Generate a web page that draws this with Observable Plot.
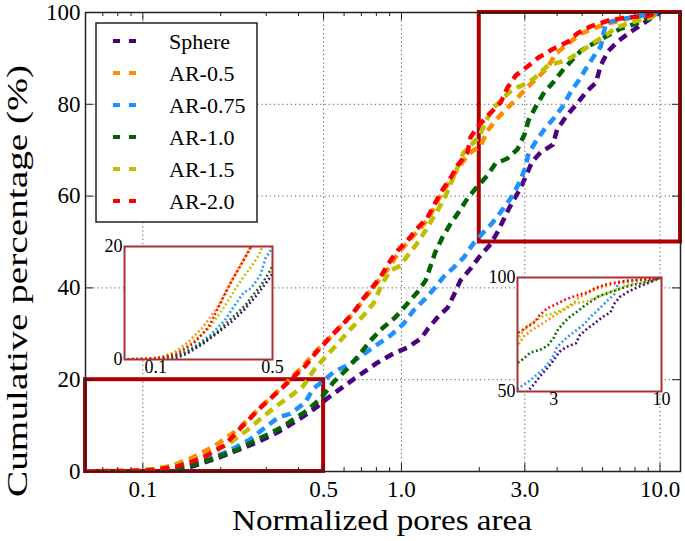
<!DOCTYPE html>
<html>
<head>
<meta charset="utf-8">
<script src="https://cdn.jsdelivr.net/npm/d3@7"></script>
<script src="https://cdn.jsdelivr.net/npm/@observablehq/plot@0.6"></script>
<style>
  html, body { margin: 0; padding: 0; background: #fff; }
  #chart { position: relative; width: 685px; height: 541px; overflow: hidden; font-family: "Liberation Serif", serif; }
  #chart > svg { position: absolute; }
</style>
</head>
<body>
<div id="chart"></div>
<script>
// ---------- data ----------
const seriesNames = ["Sphere", "AR-0.5", "AR-0.75", "AR-1.0", "AR-1.5", "AR-2.0"];
const seriesColors = ["#4b0082", "#ff8c00", "#1e90ff", "#006400", "#bfbf00", "#ff0000"];

const sphere = [[0.06,0],[0.1,0],[0.13,0.2],[0.153,1],[0.192,2.8],[0.244,5.1],[0.29,6.9],[0.334,8.6],[0.40,11.3],[0.47,14],[0.53,16.4],[0.60,18.6],[0.66,20.3],[0.807,23.7],[0.931,25.7],[1.055,27],[1.19,29],[1.27,31.2],[1.38,33.6],[1.51,35.7],[1.59,38.3],[1.69,41.6],[1.85,44.2],[1.99,46.6],[2.21,49.5],[2.37,52.5],[2.6,57.2],[2.87,61.5],[3.0,63.8],[3.2,67.5],[3.45,69.5],[3.85,71.2],[4.0,74.5],[4.35,77.5],[4.72,79.8],[5.2,82.8],[5.65,84.7],[5.9,88.5],[6.28,91.5],[6.9,93.8],[7.7,95.8],[8.6,97.6],[9.2,98.7],[10,100]];
const ar05 = [[0.06,0],[0.09,0.1],[0.11,0.5],[0.13,1.3],[0.155,3],[0.19,5.6],[0.235,9.3],[0.285,14],[0.345,18.3],[0.42,23.2],[0.46,25.8],[0.54,29.7],[0.59,32],[0.65,34.4],[0.71,37.3],[0.82,41.8],[0.9,44.6],[0.97,47.6],[1.06,50],[1.16,52.5],[1.27,55],[1.42,60.3],[1.55,63.5],[1.66,66.2],[1.8,68.8],[1.9,70],[2.02,70.8],[2.15,74.2],[2.31,76.5],[2.5,78.5],[2.8,81.3],[3.05,83.6],[3.36,85.8],[3.68,88],[3.95,91],[4.4,93.2],[4.95,95.4],[5.5,96.5],[6.3,97.6],[7.2,98.4],[8.2,99.3],[10,100]];
const ar075 = [[0.06,0],[0.11,0.1],[0.134,0.7],[0.169,2.2],[0.212,4.3],[0.26,7],[0.297,9.6],[0.335,11.8],[0.372,12.6],[0.424,15],[0.455,18],[0.5,19.8],[0.545,21.6],[0.634,23.5],[0.758,26.6],[0.906,29.6],[1.02,32.2],[1.11,35],[1.24,37.7],[1.35,40.1],[1.45,42.3],[1.59,44.4],[1.74,46.6],[1.9,49.7],[2.06,51.9],[2.25,54.2],[2.48,57.3],[2.69,60.1],[2.89,63.5],[3.02,66.4],[3.1,69.3],[3.36,72.5],[3.6,74.8],[3.9,77.1],[4.24,79.8],[4.52,82.8],[4.85,85.2],[5.2,88],[5.55,90.5],[5.9,92.6],[6.05,95.5],[6.2,97.8],[7,98.5],[8.5,99.3],[10,100]];
const ar10 = [[0.06,0],[0.11,0.1],[0.146,1],[0.18,2.5],[0.233,4.8],[0.277,7],[0.311,8.3],[0.351,9.9],[0.378,11.2],[0.424,13],[0.486,15.8],[0.545,19.4],[0.618,22.4],[0.694,25.7],[0.758,28.5],[0.844,31.2],[0.947,33.6],[1.055,36.6],[1.15,39],[1.24,41.6],[1.35,47.7],[1.44,51],[1.55,54],[1.66,56.4],[1.8,59.5],[1.94,61.7],[2.15,64.5],[2.31,67.1],[2.57,68.2],[2.81,70.2],[3.0,73.6],[3.1,76.5],[3.36,80.2],[3.55,82.4],[3.88,84.9],[4.2,87.4],[4.6,89.8],[4.95,91.7],[5.55,93.3],[6.28,95],[7.05,96.5],[7.9,97.4],[9.0,98.7],[10,100]];
const ar15 = [[0.06,0],[0.1,0.2],[0.125,1],[0.146,1.9],[0.177,3.7],[0.212,5.8],[0.253,9],[0.30,12.5],[0.335,14.6],[0.38,16.8],[0.417,18.6],[0.464,22.5],[0.545,26.8],[0.645,31.4],[0.713,34],[0.779,36.6],[0.844,41],[0.906,43.8],[0.99,44.8],[1.055,47],[1.15,49.7],[1.24,52.5],[1.38,56.9],[1.48,60],[1.58,63.8],[1.74,69.5],[1.99,72.8],[2.21,78.4],[2.46,81.3],[2.7,83.3],[2.9,84],[3.24,85.5],[3.71,88.6],[4.32,89.5],[4.95,91.5],[5.55,93.5],[6.28,95.3],[6.7,96.6],[7.7,97.8],[9.2,98.9],[10,100]];
const ar20 = [[0.06,0],[0.1,0.2],[0.111,0.4],[0.134,1],[0.169,2.9],[0.207,5.7],[0.244,10],[0.286,14],[0.35,18.5],[0.425,23],[0.464,25.7],[0.545,30],[0.596,32.2],[0.652,34.6],[0.713,37.7],[0.829,42.3],[0.89,45.3],[0.965,48.1],[1.055,50.3],[1.15,52.9],[1.26,55.3],[1.42,60.8],[1.55,64],[1.65,66.7],[1.80,69.5],[1.85,72.8],[1.99,75.4],[2.2,78],[2.42,80.4],[2.57,83.6],[2.77,86.3],[3.08,88.3],[3.39,90.2],[3.84,92],[4.4,93.6],[4.8,95.5],[5.4,97],[6.28,98.2],[7.2,98.8],[9.0,99.3],[10,100]];
const seriesData = [sphere, ar05, ar075, ar10, ar15, ar20];

const xDomain = [0.06, 12];
const yDomain = [0, 100];
const xTicks = [0.1, 0.5, 1, 3, 10];
const xTickLabels = ["0.1", "0.5", "1.0", "3.0", "10.0"];
const xMinorTicks = [0.07,0.08,0.09,0.2,0.3,0.4,0.6,0.7,0.8,0.9,2,4,5,6,7,8,9];
const yTicks = [0, 20, 40, 60, 80, 100];

// highlighted regions [x1, x2, y1, y2]
const zoomRegions = [[0.06, 0.5, 0, 20], [2, 12, 50, 100]];

// insets
const inset1X = [0.065, 0.5], inset1Y = [0, 20];
const inset1XTicks = [0.1, 0.5], inset1XLabels = ["0.1", "0.5"], inset1YTicks = [0, 20];
const inset2X = [2, 10], inset2Y = [50, 100];
const inset2XTicks = [3, 10], inset2XLabels = ["3", "10"], inset2YTicks = [50, 100];

const xLabel = "Normalized pores area";
const yLabel = "Cumulative percentage (%)";

// ---------- main chart ----------
const W = 685, H = 541, mL = 85, mR = 5, mT = 12, mB = 70;
const fw = W - mL - mR, fh = H - mT - mB;
const fam = "Liberation Serif, serif";

function serifize(el) {
  el.setAttribute("font-family", fam);
  el.style.setProperty("font-family", "'Liberation Serif', serif", "important");
  el.querySelectorAll("text, tspan, g").forEach(t => {
    t.setAttribute("font-family", fam);
    t.style.setProperty("font-family", "'Liberation Serif', serif", "important");
  });
}

const lineMarks = seriesData.map((s, i) => Plot.line(s, {
  x: d => d[0], y: d => d[1], stroke: seriesColors[i],
  strokeWidth: 4.5, strokeDasharray: "9,6", strokeLinecap: "butt", clip: true
}));

const main = Plot.plot({
  width: W, height: H,
  marginLeft: mL, marginRight: mR, marginTop: mT, marginBottom: mB,
  style: { fontSize: "22px", color: "#000", background: "transparent", overflow: "visible" },
  x: { type: "log", domain: xDomain, axis: null },
  y: { domain: yDomain, axis: null },
  marks: [
    Plot.gridX(xTicks, { stroke: "#555", strokeOpacity: 1, strokeDasharray: "1.2,3" }),
    Plot.gridY(yTicks, { stroke: "#555", strokeOpacity: 1, strokeDasharray: "1.2,3" }),
    Plot.rect(zoomRegions, { x1: d => d[0], x2: d => d[1], y1: d => d[2], y2: d => d[3], stroke: "#b00000", strokeWidth: 4, fill: "none" }),
    ...lineMarks,
    Plot.frame({ stroke: "#222", strokeWidth: 1.5 }),
    // inward ticks
    Plot.ruleX(xTicks, { insetTop: fh - 8, stroke: "#222", strokeWidth: 1 }),
    Plot.ruleX(xTicks, { insetBottom: fh - 8, stroke: "#222", strokeWidth: 1 }),
    Plot.ruleX(xMinorTicks, { insetTop: fh - 4, stroke: "#222", strokeWidth: 1 }),
    Plot.ruleX(xMinorTicks, { insetBottom: fh - 4, stroke: "#222", strokeWidth: 1 }),
    Plot.ruleY(yTicks, { insetRight: fw - 8, stroke: "#222", strokeWidth: 1 }),
    Plot.ruleY(yTicks, { insetLeft: fw - 8, stroke: "#222", strokeWidth: 1 }),
    // tick labels
    Plot.text(xTicks, { x: d => d, text: (d, i) => xTickLabels[i], frameAnchor: "bottom", lineAnchor: "top", dy: 9, fill: "#000", fontSize: 23, fontFamily: fam }),
    Plot.text(yTicks, { y: d => d, text: d => String(d), frameAnchor: "left", textAnchor: "end", dx: -5, fill: "#000", fontSize: 23, fontFamily: fam })
  ]
});
main.style.left = "0px"; main.style.top = "0px";
document.getElementById("chart").appendChild(main);

const svg = d3.select(main);
svg.append("text")
  .attr("transform", "translate(27,281) rotate(-90)")
  .attr("text-anchor", "middle").attr("font-size", 29)
  .attr("textLength", 432).attr("lengthAdjust", "spacingAndGlyphs")
  .attr("fill", "#000").text(yLabel);
svg.append("text")
  .attr("x", 382).attr("y", 530)
  .attr("text-anchor", "middle").attr("font-size", 29)
  .attr("textLength", 300).attr("lengthAdjust", "spacingAndGlyphs")
  .attr("fill", "#000").text(xLabel);

// legend
const lg = svg.append("g").attr("transform", "translate(96,23)");
lg.append("rect").attr("width", 161).attr("height", 199).attr("fill", "#fff").attr("stroke", "#222").attr("stroke-width", 1.5);
seriesNames.forEach((name, i) => {
  const cy = 18 + i * 32;
  lg.append("line").attr("x1", 17).attr("x2", 40).attr("y1", cy).attr("y2", cy)
    .attr("stroke", seriesColors[i]).attr("stroke-width", 4).attr("stroke-dasharray", "7,9");
  lg.append("text").attr("x", 73).attr("y", cy).attr("dy", "0.35em")
    .attr("text-anchor", "start")
    .attr("font-size", 22).attr("fill", "#000").text(name);
});
serifize(main);

// ---------- insets ----------
function inset(xd, yd, xt, xl, yt, ml, left, top, fwi, fhi) {
  const mt = 10, mr = 15, mb = 22;
  const p = Plot.plot({
    width: fwi + ml + mr, height: fhi + mt + mb,
    marginLeft: ml, marginRight: mr, marginTop: mt, marginBottom: mb,
    style: { fontSize: "17px", color: "#000", background: "transparent", overflow: "visible" },
    x: { type: "log", domain: xd, axis: null },
    y: { domain: yd, axis: null },
    marks: [
      Plot.frame({ fill: "#fff", stroke: "none" }),
      ...seriesData.map((s, i) => Plot.line(s, {
        x: d => d[0], y: d => d[1], stroke: seriesColors[i],
        strokeWidth: 2.6, strokeDasharray: "1.8,2.6", strokeLinecap: "butt", clip: true
      })),
      Plot.frame({ stroke: "#a83232", strokeWidth: 2 }),
      Plot.text(xt, { x: d => d, text: (d, i) => xl[i], frameAnchor: "bottom", lineAnchor: "top", dy: 1, fill: "#000", fontSize: 18, fontFamily: fam }),
      Plot.text(yt, { y: d => d, text: d => String(d), frameAnchor: "left", textAnchor: "end", dx: -2, fill: "#000", fontSize: 18, fontFamily: fam })
    ]
  });
  p.style.left = (left - ml) + "px";
  p.style.top = (top - mt) + "px";
  document.getElementById("chart").appendChild(p);
  serifize(p);
}
inset(inset1X, inset1Y, inset1XTicks, inset1XLabels, inset1YTicks, 25, 124, 246, 148, 113);
inset(inset2X, inset2Y, inset2XTicks, inset2XLabels, inset2YTicks, 35, 517, 277, 144, 114);
</script>
</body>
</html>
